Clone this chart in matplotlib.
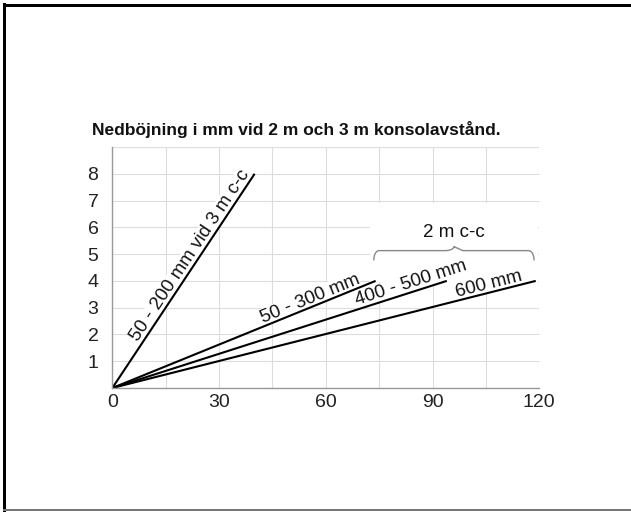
import numpy as np
import matplotlib
matplotlib.use("Agg")
import matplotlib.pyplot as plt
from matplotlib.patches import Rectangle

plt.rcParams['font.family'] = ['Liberation Sans', 'DejaVu Sans']

# deflection lines: end points (x = load?, y = deflection in mm)
series_labels = ["50 - 200 mm vid 3 m c-c", "50 - 300 mm", "400 - 500 mm", "600 mm"]
end_x = [40, 74, 94, 119]
end_y = [8, 4, 4, 4]
label_pos_x = [23.8, 56.4, 84.8, 106.3]

x_ticks = [0, 15, 30, 45, 60, 75, 90, 105, 120]
x_tick_labels = ["0", "", "30", "", "60", "", "90", "", "120"]
y_ticks = [0, 1, 2, 3, 4, 5, 6, 7, 8, 9]
y_tick_labels = ["", "1", "2", "3", "4", "5", "6", "7", "8", ""]

title = "Nedböjning i mm vid 2 m och 3 m konsolavstånd."
group_label = "2 m c-c"

fig = plt.figure(figsize=(6.31, 5.12), dpi=100)
ax = fig.add_axes([112.3 / 631, 1 - 388 / 512, 427 / 631, 241 / 512])
ax.set_xlim(0, 120)
ax.set_ylim(0, 9)
ax.set_xticks(x_ticks)
ax.set_xticklabels(x_tick_labels)
ax.set_yticks(y_ticks)
ax.set_yticklabels(y_tick_labels)
ax.tick_params(length=0, labelsize=14, colors='#222222')
ax.tick_params(axis='x', pad=4)
ax.tick_params(axis='y', pad=10)
ax.set_axisbelow(True)
ax.grid(True, color='#dddddd', linewidth=0.8)
for side in ['top', 'right']:
    ax.spines[side].set_visible(False)
for side in ['left', 'bottom']:
    ax.spines[side].set_color('#999999')
    ax.spines[side].set_linewidth(1.0)

# white area behind the "2 m c-c" brace
ax.add_patch(Rectangle((72.4, 3.97), 47.2, 2.93, facecolor='white',
                       edgecolor='none', zorder=1))

for label, xe, ye, xl in zip(series_labels, end_x, end_y, label_pos_x):
    ax.plot([0, xe], [0, ye], color='black', linewidth=1.5, zorder=2,
            solid_capstyle='butt')
    yl = ye / xe * xl
    ang = np.degrees(np.arctan2(ye, xe))
    rot = ax.transData.transform_angles(np.array([ang]), np.array([[xl, yl]]))[0]
    ax.text(xl, yl, label, rotation=rot, rotation_mode='anchor',
            ha='center', va='bottom', fontsize=13.5, color='#111111', zorder=1.8,
            bbox=dict(facecolor='white', edgecolor='none', pad=0.3))

# curly brace over the 2 m c-c group
bx0, bx1, by = 73.5, 118.5, 5.13
bxm = (bx0 + bx1) / 2
t = np.linspace(0, 1, 30)
left_end_x = bx0 + 1.5 * (1 - np.cos(t * np.pi / 2))
left_end_y = by - 0.34 * (1 - np.sin(t * np.pi / 2))
xs = np.concatenate([left_end_x, [bxm - 2.5],
                     bxm - 2.5 + 2.5 * np.sin(t * np.pi / 2),
                     bxm + 2.5 * (1 - np.cos(t * np.pi / 2)),
                     [bx1 - 1.5], bx1 - 1.5 + 1.5 * np.sin(t * np.pi / 2)])
ys = np.concatenate([left_end_y, [by],
                     by + 0.15 * (1 - np.cos(t * np.pi / 2)),
                     by + 0.15 * np.cos(t * np.pi / 2),
                     [by], by - 0.34 * (1 - np.cos(t * np.pi / 2))])
ax.plot(xs, ys, color='#888888', linewidth=1.0, zorder=2)
ax.text(96.1, 5.79, group_label, ha='center', va='center', fontsize=13.5,
        color='#111111', zorder=3)

fig.text(91.7 / 631, 1 - 135 / 512, title, ha='left', va='baseline',
         fontsize=12.5, fontweight='bold', color='#111111')

# page frame
fig.patches.append(Rectangle((3 / 631, 0), 3 / 631, 1 - 3 / 512, transform=fig.transFigure,
                             facecolor='black', edgecolor='none'))
fig.patches.append(Rectangle((3 / 631, 1 - 7 / 512), 1, 3 / 512, transform=fig.transFigure,
                             facecolor='black', edgecolor='none'))
fig.patches.append(Rectangle((3 / 631, 1 / 512), 1, 2 / 512, transform=fig.transFigure,
                             facecolor='#777777', edgecolor='none'))

fig.savefig("out.png", dpi=100)
